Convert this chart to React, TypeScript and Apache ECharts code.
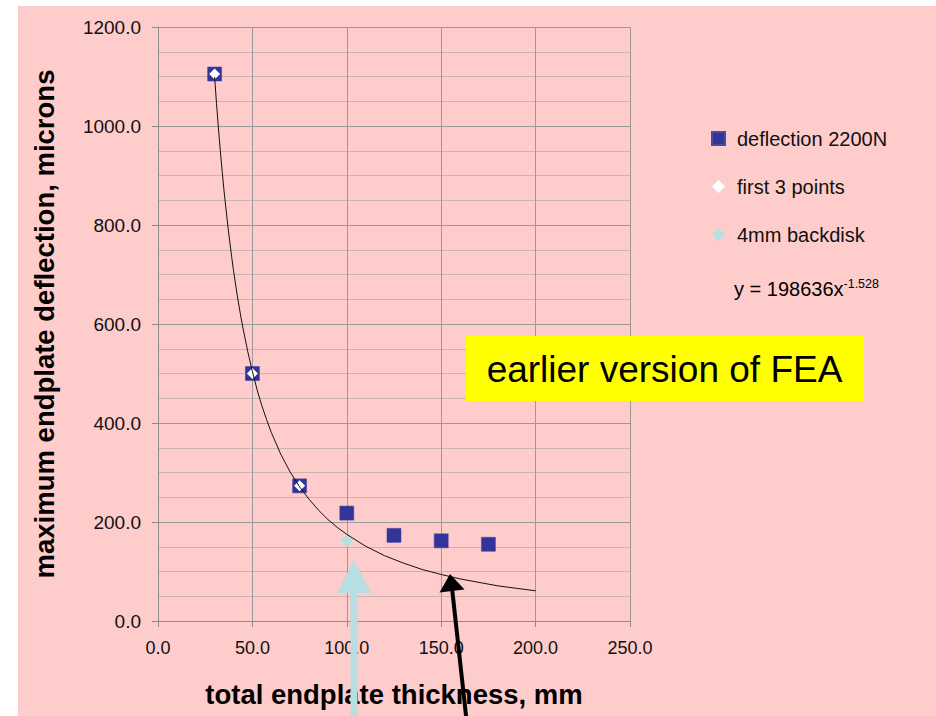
import React, { useEffect, useRef } from "react";
import * as echarts from "echarts";

// ---- data ----
const thicknessMm = [30, 50, 75, 100, 125, 150, 175];
const deflection2200N = [1105, 500, 273, 218, 173, 162, 155];
const first3Thickness = [30, 50, 75];
const first3Deflection = [1105, 500, 273];
const backdiskThickness = [100];
const backdiskDeflection = [162];
// power trendline, points
const trendX = [30, 31, 32, 33, 34, 35, 37, 39, 40, 42, 44, 45, 47.5, 50, 52.5, 55, 57.5, 60, 65, 70, 75, 80, 85, 90, 95, 100, 110, 120, 130, 140, 150, 160, 170, 180, 190, 200];
const trendY = [1099, 1045, 996, 950, 908, 868, 798, 736, 708, 657, 612, 592, 545, 504, 467, 435, 407, 381, 337, 301, 271, 246, 224, 205, 189, 175, 151, 132, 117, 104, 94, 85, 78, 71, 66, 61];
const seriesNames = ["deflection 2200N", "first 3 points", "4mm backdisk"];
const equationMain = "y = 198636x";
const equationExp = "-1.528";
const xTitle = "total endplate thickness, mm";
const yTitle = "maximum endplate deflection, microns";
const note = "earlier version of FEA";

const FONT = "'Liberation Sans', Arial, Helvetica, sans-serif";

export default function App() {
  const ref = useRef<HTMLDivElement>(null);
  useEffect(() => {
    if (!ref.current) return;
    const chart = echarts.init(ref.current, null, { renderer: "svg" });
    const zip = (xs: number[], ys: number[]) => xs.map((x, i) => [x, ys[i]]);
    chart.setOption({
      animation: false,
      backgroundColor: "transparent",
      grid: { left: 158, top: 27, width: 472, height: 594, containLabel: false },
      xAxis: {
        type: "value",
        min: 0,
        max: 250,
        interval: 50,
        name: xTitle,
        nameLocation: "middle",
        nameGap: 59,
        nameTextStyle: { fontFamily: FONT, fontSize: 27.5, fontWeight: "bold", color: "#000" },
        axisLine: { show: true, lineStyle: { color: "#8c8c8c", width: 1 } },
        axisTick: { show: true, length: 6, lineStyle: { color: "#8c8c8c" } },
        axisLabel: {
          fontFamily: FONT,
          fontSize: 18,
          color: "#111",
          margin: 18,
          formatter: (v: number) => v.toFixed(1),
        },
        splitLine: { show: true, lineStyle: { color: "#9a9a9a", width: 1 } },
      },
      yAxis: {
        type: "value",
        min: 0,
        max: 1200,
        interval: 200,
        name: yTitle,
        nameLocation: "middle",
        nameGap: 100,
        nameTextStyle: { fontFamily: FONT, fontSize: 27.5, fontWeight: "bold", color: "#000" },
        axisLine: { show: true, lineStyle: { color: "#8c8c8c", width: 1 } },
        axisTick: { show: true, length: 6, lineStyle: { color: "#8c8c8c" } },
        axisLabel: {
          fontFamily: FONT,
          fontSize: 19,
          color: "#111",
          margin: 17,
          formatter: (v: number) => v.toFixed(1),
        },
        splitLine: { show: true, lineStyle: { color: "#9a9a9a", width: 1 } },
        minorTick: { show: false, splitNumber: 4 },
        minorSplitLine: { show: true, lineStyle: { color: "#c9b3b3", width: 1 } },
      },
      legend: {
        orient: "vertical",
        left: 706,
        top: 123,
        itemWidth: 13,
        itemHeight: 13,
        itemGap: 27,
        selectedMode: false,
        data: [
          { name: seriesNames[0], icon: "rect" },
          { name: seriesNames[1], icon: "diamond" },
          { name: seriesNames[2], icon: "diamond" },
        ],
        textStyle: { fontFamily: FONT, fontSize: 20, color: "#111", lineHeight: 21, padding: [0, 0, 0, 7] },
      },
      series: [
        {
          name: seriesNames[0],
          type: "scatter",
          symbol: "rect",
          symbolSize: 14,
          z: 2,
          itemStyle: { color: "#333399", opacity: 1, borderColor: "#4a4aa6", borderWidth: 0.6 },
          data: zip(thicknessMm, deflection2200N),
        },
        {
          name: seriesNames[1],
          type: "scatter",
          symbol: "diamond",
          symbolSize: 11,
          z: 3,
          itemStyle: { color: "#ffffff", opacity: 1 },
          data: zip(first3Thickness, first3Deflection),
        },
        {
          name: seriesNames[2],
          type: "scatter",
          symbol: "diamond",
          symbolSize: 13,
          z: 3,
          itemStyle: { color: "#b7dee0", opacity: 1 },
          data: zip(backdiskThickness, backdiskDeflection),
        },
        {
          name: "power trendline",
          type: "line",
          showSymbol: false,
          smooth: false,
          silent: true,
          z: 4,
          lineStyle: { color: "#111111", width: 1 },
          data: zip(trendX, trendY),
        },
      ],
      graphic: [
        {
          type: "text",
          left: 734,
          top: 277,
          style: {
            text: `{a|${equationMain}}{b|${equationExp}}`,
            rich: {
              a: { fontFamily: FONT, fontSize: 20, lineHeight: 22, color: "#111", verticalAlign: "bottom" },
              b: { fontFamily: FONT, fontSize: 12.5, lineHeight: 12, color: "#111", verticalAlign: "top" },
            },
          },
        },
        {
          type: "rect",
          shape: { x: 466, y: 336, width: 398, height: 65 },
          style: { fill: "#ffff00" },
          z: 10,
        },
        {
          type: "text",
          x: 664.5,
          y: 369,
          z: 11,
          style: {
            text: note,
            fontFamily: FONT,
            fontSize: 37,
            fill: "#000",
            align: "center",
            verticalAlign: "middle",
          },
        },
        // light cyan arrow
        {
          type: "rect",
          shape: { x: 350.5, y: 590, width: 7, height: 130 },
          style: { fill: "#b7dee0" },
          z: 10,
        },
        {
          type: "polygon",
          shape: { points: [[337, 593], [371, 593], [354, 560]] },
          style: { fill: "#b7dee0" },
          z: 10,
        },
        // black arrow
        {
          type: "line",
          shape: { x1: 452, y1: 588, x2: 466.5, y2: 720 },
          style: { stroke: "#000", lineWidth: 4 },
          z: 10,
        },
        {
          type: "polygon",
          shape: { points: [[439.5, 592.5], [464.5, 589.5], [450, 574]] },
          style: { fill: "#000" },
          z: 10,
        },
      ],
    });
    return () => chart.dispose();
  }, []);

  return (
    <div style={{ position: "fixed", left: 0, top: 0, width: 936, height: 716, background: "#ffffff", overflow: "hidden" }}>
      <div style={{ position: "absolute", left: 18, top: 6, width: 918, height: 710, background: "#ffcccc" }} />
      <div ref={ref} style={{ position: "absolute", left: 0, top: 0, width: 936, height: 716 }} />
    </div>
  );
}
